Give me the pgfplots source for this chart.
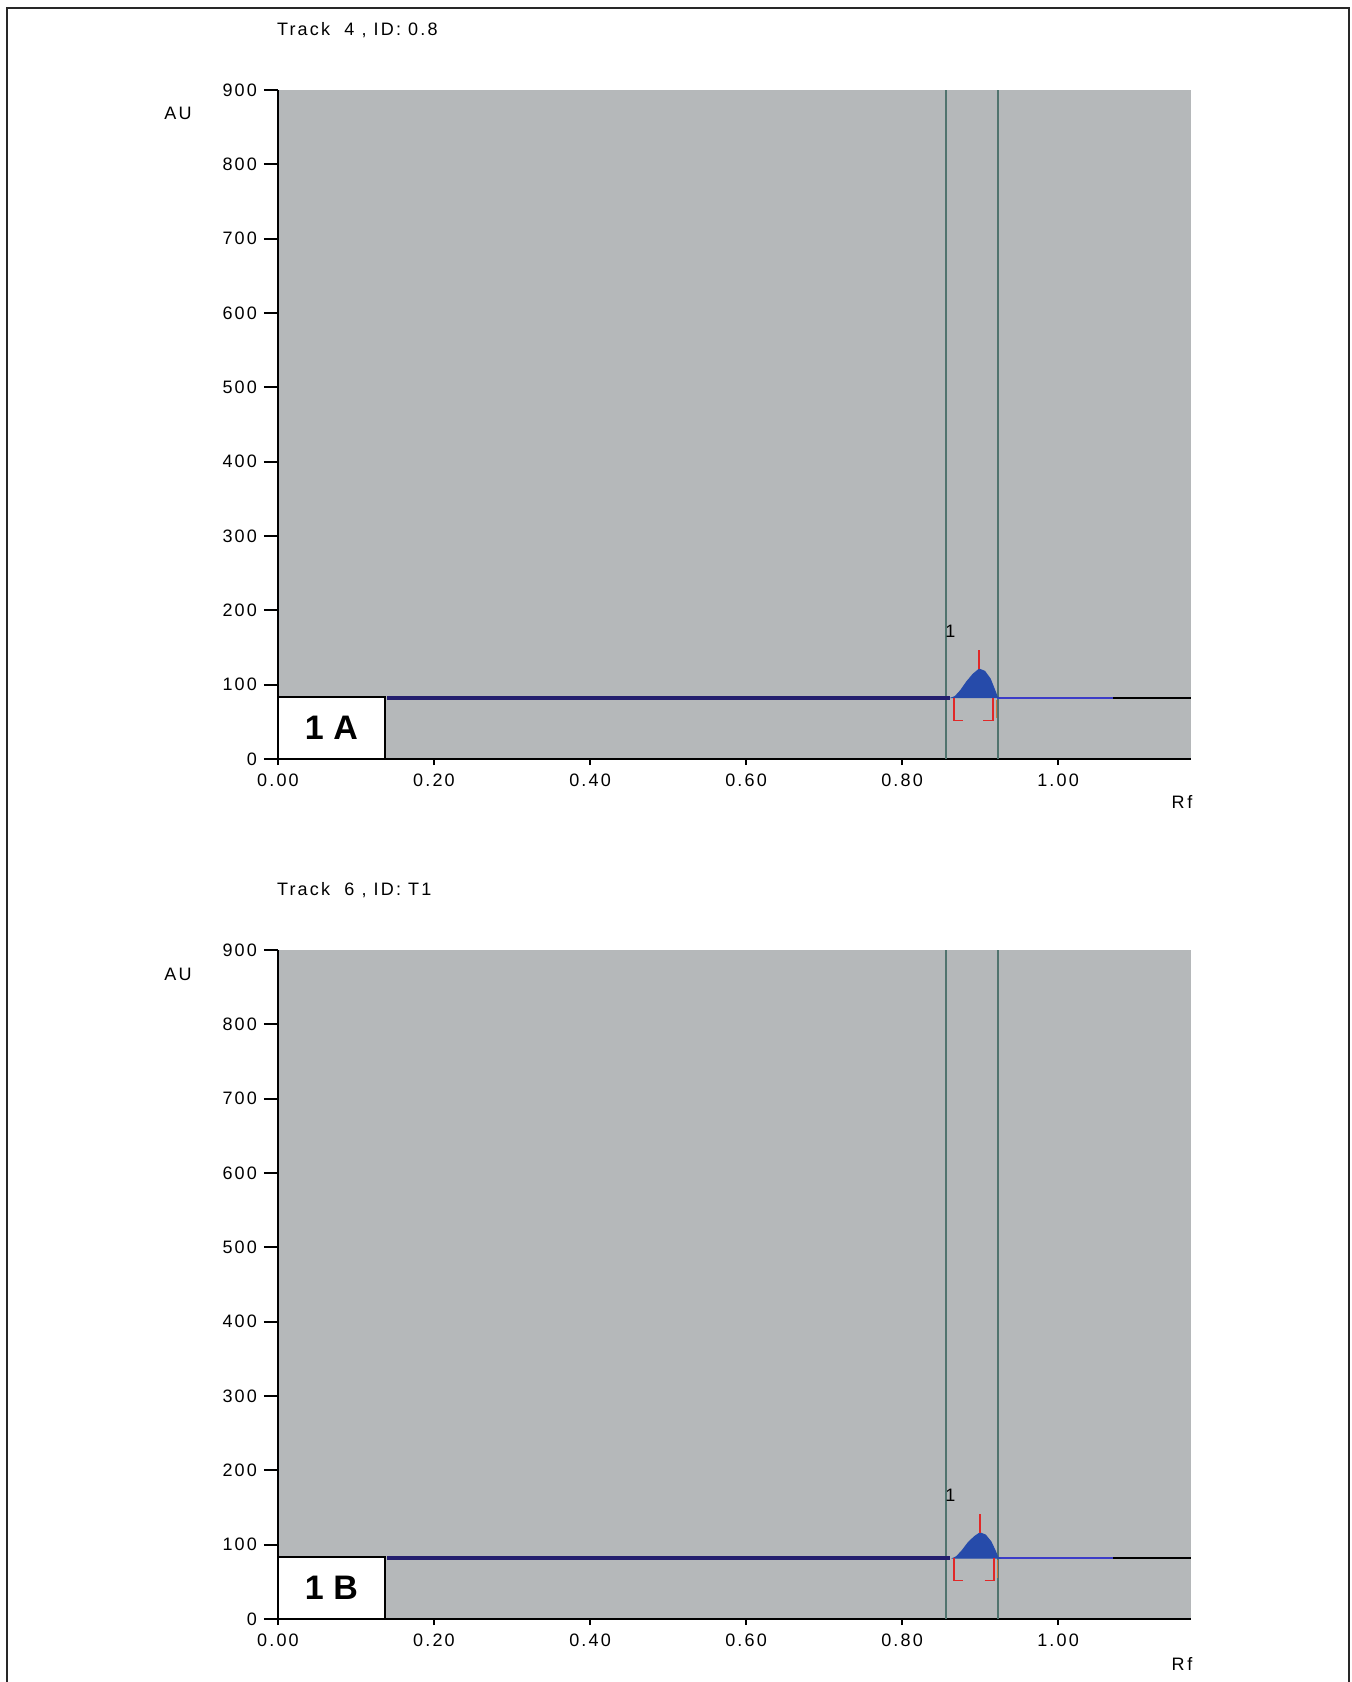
\documentclass[border=0pt]{standalone}
\usepackage{pgfplots}
\pgfplotsset{compat=1.18}
\usepackage{fontspec}
\setmainfont{Liberation Sans}
\newfontfamily\hp[LetterSpace=12]{Liberation Sans}
\newcommand{\hpf}{\hp\fontsize{9pt}{11pt}\selectfont}
\definecolor{bggray}{RGB}{181,184,186}
\definecolor{navy}{RGB}{35,30,110}
\definecolor{peakblue}{RGB}{38,75,170}
\definecolor{thinblue}{RGB}{60,60,200}
\definecolor{teal}{RGB}{80,115,110}
\definecolor{peakred}{RGB}{225,40,40}
\definecolor{brown}{RGB}{200,120,60}
\definecolor{frame}{RGB}{40,40,40}
\pgfplotsset{
  hptlc/.style={
    scale only axis, width=456.5pt, height=334.5pt,
    anchor=south west,
    xmin=0, xmax=1.1705, ymin=0, ymax=900,
    axis x line*=bottom, axis y line*=left,
    axis line style={black, line width=1pt, -},
    axis background/.style={fill=bggray},
    clip=false,
    tick align=outside,
    xtick={0,0.2,0.4,0.6,0.8,1.0},
    xticklabels={0.00,0.20,0.40,0.60,0.80,1.00},
    ytick={0,100,200,300,400,500,600,700,800,900},
    yticklabels={0,100,200,300,400,500,600,700,800,900},
    major tick length=7pt,
    xtick style={black, line width=1pt, /pgfplots/major tick length=3pt},
    ytick style={black, line width=1pt},
    tick label style={font=\hpf},
    yticklabel style={xshift=0pt},
    xticklabel style={yshift=3pt},
  }
}
\begin{document}
\begin{tikzpicture}
\useasboundingbox (0,0) rectangle (675.5pt,-841pt);
\draw[frame, line width=1pt] (3.5pt,-841pt) -- (3.5pt,-4pt) -- (674.5pt,-4pt) -- (674.5pt,-841pt);

% ---------- Panel A ----------
\begin{axis}[hptlc, at={(139pt,-379.5pt)}]
  \addplot[teal, line width=0.9pt] coordinates {(0.856,0) (0.856,900)};
  \addplot[teal, line width=0.9pt] coordinates {(0.923,0) (0.923,900)};
  \addplot[black, line width=0.9pt] coordinates {(1.07,82.5) (1.1705,82.5)};
  \addplot[thinblue, line width=0.9pt] coordinates {(0.922,82.5) (1.07,82.5)};
  \addplot[navy, line width=2pt] coordinates {(0.14,82.5) (0.862,82.5)};
  \addplot[peakblue, fill=peakblue, line width=0.5pt] coordinates {
    (0.864,82.5) (0.868,84) (0.875,92) (0.883,104) (0.891,114) (0.899,121)
    (0.906,118) (0.913,108) (0.918,95) (0.922,84) (0.924,82.5)} -- cycle;
  \addplot[peakred, line width=0.8pt] coordinates {(0.899,121) (0.899,147)};
  \addplot[peakred, line width=0.8pt] coordinates {(0.878,52) (0.867,52) (0.867,82)};
  \addplot[peakred, line width=0.8pt] coordinates {(0.904,52) (0.917,52) (0.917,82)};
  \addplot[brown, line width=0.6pt] coordinates {(0.921,80) (0.921,55)};
  \addplot[black, fill=white, line width=1pt] coordinates {(0,0) (0.137,0) (0.137,83) (0,83)} -- cycle;
  \node[font=\fontsize{17pt}{20pt}\selectfont\bfseries] at (axis cs:0.0685,42) {1 A};
  \node[font=\hpf, anchor=center] at (axis cs:0.862,172) {1};
\end{axis}
\node[anchor=west, font=\hpf] at (135pt,-15pt) {Track\ \ 4 , ID: 0.8};
\node[font=\hpf] at (89pt,-56.5pt) {AU};
\node[font=\hpf] at (591pt,-401pt) {R\,f};

% ---------- Panel B ----------
\begin{axis}[hptlc, at={(139pt,-809.5pt)}]
  \addplot[teal, line width=0.9pt] coordinates {(0.856,0) (0.856,900)};
  \addplot[teal, line width=0.9pt] coordinates {(0.923,0) (0.923,900)};
  \addplot[black, line width=0.9pt] coordinates {(1.07,82) (1.1705,82)};
  \addplot[thinblue, line width=0.9pt] coordinates {(0.923,82) (1.07,82)};
  \addplot[navy, line width=2pt] coordinates {(0.14,82) (0.862,82)};
  \addplot[peakblue, fill=peakblue, line width=0.5pt] coordinates {
    (0.866,82) (0.870,84) (0.877,92) (0.885,103) (0.893,111) (0.900,116)
    (0.907,113) (0.914,104) (0.919,93) (0.923,83) (0.925,82)} -- cycle;
  \addplot[peakred, line width=0.8pt] coordinates {(0.900,116) (0.900,141)};
  \addplot[peakred, line width=0.8pt] coordinates {(0.878,52) (0.867,52) (0.867,82)};
  \addplot[peakred, line width=0.8pt] coordinates {(0.906,52) (0.918,52) (0.918,82)};
  \addplot[brown, line width=0.6pt] coordinates {(0.922,80) (0.922,55)};
  \addplot[black, fill=white, line width=1pt] coordinates {(0,0) (0.137,0) (0.137,83) (0,83)} -- cycle;
  \node[font=\fontsize{17pt}{20pt}\selectfont\bfseries] at (axis cs:0.0685,42) {1 B};
  \node[font=\hpf, anchor=center] at (axis cs:0.862,167) {1};
\end{axis}
\node[anchor=west, font=\hpf] at (135pt,-445pt) {Track\ \ 6 , ID: T1};
\node[font=\hpf] at (89pt,-487pt) {AU};
\node[font=\hpf] at (591pt,-832pt) {R\,f};
\end{tikzpicture}
\end{document}
